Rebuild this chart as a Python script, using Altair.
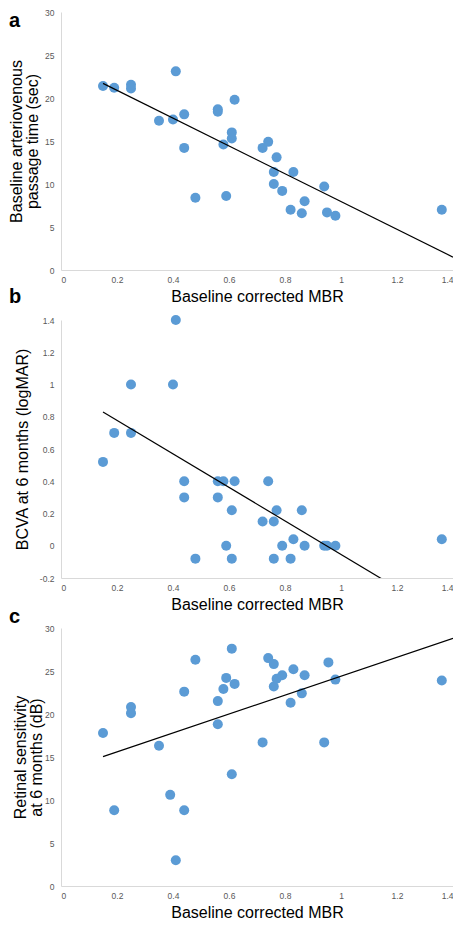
import altair as alt
import pandas as pd

# ---- data ----
x_ticks = [0, 0.2, 0.4, 0.6, 0.8, 1.0, 1.2, 1.4]

a_mbr = [0.15, 0.19, 0.25, 0.25, 0.35, 0.40, 0.41, 0.44, 0.44, 0.48, 0.56, 0.56, 0.58, 0.59, 0.61, 0.61,
         0.62, 0.72, 0.74, 0.76, 0.76, 0.77, 0.79, 0.82, 0.83, 0.86, 0.87, 0.94, 0.95, 0.98, 1.36]
a_avt = [21.4, 21.2, 21.55, 21.1, 17.35, 17.5, 23.1, 18.1, 14.2, 8.4, 18.7, 18.4, 14.6, 8.6, 16.0, 15.3,
         19.8, 14.2, 14.9, 11.4, 10.0, 13.1, 9.2, 7.0, 11.4, 6.6, 8.0, 9.7, 6.7, 6.3, 7.0]
a_trend_x = [0.15, 1.4]
a_trend_y = [21.7, 1.5]
a_y_ticks = [0, 5, 10, 15, 20, 25, 30]

b_mbr = [0.15, 0.19, 0.25, 0.25, 0.40, 0.41, 0.44, 0.44, 0.48, 0.56, 0.56, 0.58, 0.59, 0.61, 0.61,
         0.62, 0.72, 0.74, 0.76, 0.76, 0.77, 0.79, 0.82, 0.83, 0.86, 0.87, 0.94, 0.95, 0.98, 1.36]
b_bcva = [0.52, 0.70, 1.0, 0.70, 1.0, 1.40, 0.40, 0.30, -0.08, 0.40, 0.30, 0.40, 0.0, 0.22, -0.08,
          0.40, 0.15, 0.40, 0.15, -0.08, 0.22, 0.0, -0.08, 0.04, 0.22, 0.0, 0.0, 0.0, 0.0, 0.04]
b_trend_x = [0.15, 1.4]
b_trend_y = [0.83, -0.47]
b_y_ticks = [-0.2, 0, 0.2, 0.4, 0.6, 0.8, 1.0, 1.2, 1.4]

c_mbr = [0.15, 0.19, 0.25, 0.25, 0.35, 0.39, 0.41, 0.44, 0.44, 0.48, 0.56, 0.56, 0.58, 0.59, 0.61, 0.61,
         0.62, 0.72, 0.74, 0.76, 0.76, 0.77, 0.79, 0.82, 0.83, 0.86, 0.87, 0.94, 0.955, 0.98, 1.36]
c_rs = [17.8, 8.8, 20.8, 20.1, 16.3, 10.6, 3.0, 22.6, 8.8, 26.3, 21.5, 18.8, 22.9, 24.2, 27.6, 13.0,
        23.5, 16.7, 26.5, 25.8, 23.2, 24.1, 24.5, 21.3, 25.2, 22.4, 24.5, 16.7, 26.0, 24.0, 23.9]
c_trend_x = [0.15, 1.4]
c_trend_y = [15.05, 28.8]
c_y_ticks = [0, 5, 10, 15, 20, 25, 30]

W = 392
H = 258
FONT = "Liberation Sans"
LABEL_EXPR = "replace(format(datum.value, '~g'), '\u2212', '-')"


def panel(xs, ys, tx, ty, ydomain, yticks, ytitle, letter, letter_y, tpad):
    df = pd.DataFrame({"mbr": xs, "val": ys})
    tdf = pd.DataFrame({"mbr": tx, "val": ty})
    xenc = alt.X("mbr:Q", scale=alt.Scale(domain=[0, 1.4], nice=False, zero=False),
                 axis=alt.Axis(values=x_ticks, labelExpr=LABEL_EXPR, title="Baseline corrected MBR",
                               labelPadding=5, titlePadding=5))
    yenc = alt.Y("val:Q", scale=alt.Scale(domain=ydomain, nice=False, zero=False),
                 axis=alt.Axis(values=yticks, labelExpr=LABEL_EXPR, title=ytitle, titlePadding=tpad,
                               labelPadding=7))
    pts = alt.Chart(df).mark_circle(size=100, color="#5B9BD5", opacity=1).encode(x=xenc, y=yenc)
    line = alt.Chart(tdf).mark_line(color="black", strokeWidth=1.2, clip=True).encode(x=xenc, y=yenc)
    lab = alt.Chart(pd.DataFrame({"t": [letter]})).mark_text(
        font=FONT, fontSize=20, fontWeight="bold", align="left", baseline="alphabetic", color="black"
    ).encode(x=alt.value(-52), y=alt.value(letter_y), text="t:N")
    return alt.layer(pts, line, lab).properties(width=W, height=H)


pa = panel(a_mbr, a_avt, a_trend_x, a_trend_y, [0, 30], a_y_ticks,
           ["Baseline arteriovenous", "passage time (sec)"], "a", 15, 4)
pb = panel(b_mbr, b_bcva, b_trend_x, b_trend_y, [-0.2, 1.4], b_y_ticks,
           "BCVA at 6 months (logMAR)", "b", -17, 9)
pc = panel(c_mbr, c_rs, c_trend_x, c_trend_y, [0, 30], c_y_ticks,
           ["Retinal sensitivity", "at 6 months (dB)"], "c", -5, 0)

chart = alt.vconcat(pa, pb, pc, spacing=50, bounds="flush").resolve_scale(
    x="independent", y="independent"
).properties(padding=0).configure_view(
    stroke=None
).configure_axis(
    domainColor="#D9D9D9", domainWidth=1, ticks=False, grid=False,
    labelColor="#595959", labelFontSize=8.5, labelFont=FONT,
    titleFont=FONT, titleFontSize=16, titleFontWeight="normal", titleColor="black",
    titleLineHeight=16
)

chart.save("out.html", embed_options={"renderer": "svg", "actions": False})
